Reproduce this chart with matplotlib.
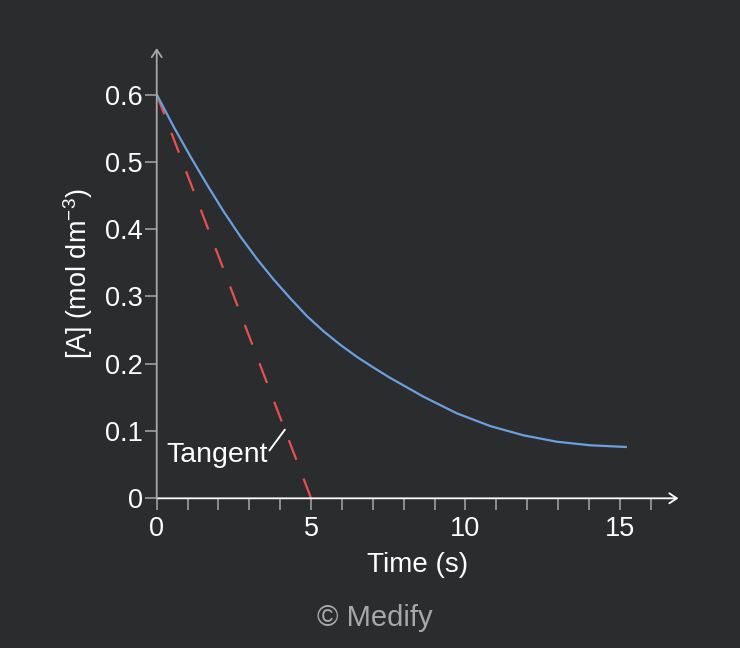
import matplotlib
matplotlib.use("Agg")
from matplotlib import pyplot as plt

# values
time_s = [0, 0.55, 1.09, 1.63, 2.17, 2.71, 3.25, 3.79, 4.33, 4.87, 5.41,
          5.95, 6.49, 7.03, 7.56, 8.64, 9.72, 10.80, 11.88, 12.96, 14.04, 15.23]
conc_A = [0.600, 0.552, 0.508, 0.466, 0.426, 0.389, 0.3555, 0.325, 0.297,
          0.2705, 0.248, 0.228, 0.210, 0.194, 0.179, 0.151, 0.1263, 0.1074,
          0.0936, 0.0841, 0.0788, 0.0762]

tangent_t = [0, 5.0]
tangent_c = [0.6, 0.0]

x_ticks = list(range(0, 17))
x_labels = ["0", "", "", "", "", "5", "", "", "", "", "10", "", "", "", "", "15", ""]
y_ticks = [0, 0.1, 0.2, 0.3, 0.4, 0.5, 0.6]
y_labels = ["0", "0.1", "0.2", "0.3", "0.4", "0.5", "0.6"]

tangent_text_xy = (0.30, 0.054)
leader_start = (3.65, 0.071)
leader_end = (4.15, 0.102)

BG = "#2b2c2e"
BLUE = "#6b9fdf"
RED = "#e8504f"
GREY = "#a8a8a8"

plt.rcParams["font.family"] = ["Liberation Sans", "DejaVu Sans"]
plt.rcParams["mathtext.fontset"] = "custom"
plt.rcParams["mathtext.rm"] = "Liberation Sans"
plt.rcParams["mathtext.it"] = "Liberation Sans"


def main():
    fig = plt.figure(figsize=(7.4, 6.48), dpi=100, facecolor=BG)
    ax = fig.add_axes([0.2118, 0.2310, 0.705, 0.6948])
    ax.set_facecolor(BG)

    ax.plot(time_s, conc_A, color=BLUE, lw=1.6, solid_joinstyle="round",
            solid_capstyle="butt", zorder=3)
    ax.plot(tangent_t, tangent_c, color=RED, lw=1.6,
            linestyle=(0, (9.5, 9.0)), zorder=2)

    ax.set_xlim(0, 16.9)
    ax.set_ylim(0, 0.669)

    for side in ["top", "right", "left", "bottom"]:
        ax.spines[side].set_visible(False)

    # axis lines with open arrow heads
    ax.annotate("", xy=(1, 0), xytext=(0, 0), xycoords="axes fraction",
                arrowprops=dict(arrowstyle="->,head_length=0.45,head_width=0.3",
                                color="white", lw=1.3, shrinkA=0, shrinkB=0,
                                mutation_scale=12), zorder=4)
    ax.annotate("", xy=(0, 1), xytext=(0, 0), xycoords="axes fraction",
                arrowprops=dict(arrowstyle="->,head_length=0.45,head_width=0.3",
                                color=GREY, lw=1.3, shrinkA=0, shrinkB=0,
                                mutation_scale=12), zorder=4)

    ax.set_xticks(x_ticks)
    ax.set_xticklabels(x_labels)
    ax.set_yticks(y_ticks)
    ax.set_yticklabels(y_labels)
    ax.tick_params(axis="both", colors=GREY, labelcolor="white", labelsize=19.5,
                   length=8.6, width=1.1)
    ax.tick_params(axis="x", pad=4)
    ax.tick_params(axis="y", pad=1.5)

    ax.set_xlabel("Time (s)", color="white", fontsize=20, labelpad=7)
    ax.set_ylabel("[A] (mol dm$^{-3}$)", color="white", fontsize=19.5, labelpad=7)

    ax.text(tangent_text_xy[0], tangent_text_xy[1], "Tangent", color="white",
            fontsize=20.5, ha="left", va="baseline")
    ax.annotate("", xy=leader_end, xytext=leader_start,
                arrowprops=dict(arrowstyle="-", color="white", lw=1.4,
                                shrinkA=0, shrinkB=0))

    fig.text(0.507, 0.047, "\u00a9 Medify", color=GREY, fontsize=21,
             ha="center", va="center")

    fig.savefig("out.png", dpi=100, facecolor=BG)


if __name__ == "__main__":
    main()
